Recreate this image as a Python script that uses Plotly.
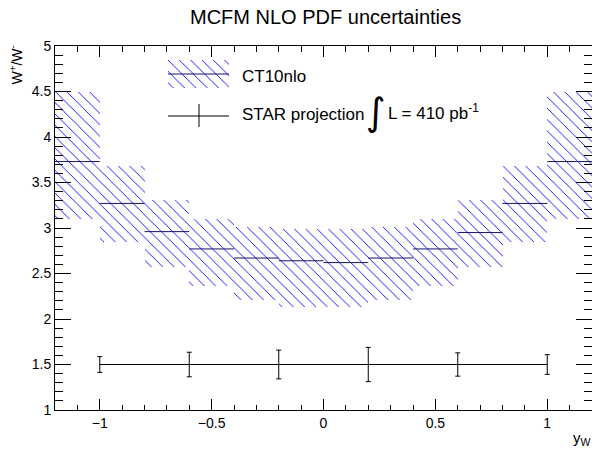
import numpy as np
import plotly.graph_objects as go

# ---------------- data ----------------
bin_edges = [-1.2, -1.0, -0.8, -0.6, -0.4, -0.2, 0.0, 0.2, 0.4, 0.6, 0.8, 1.0, 1.2]
ct10_central = [3.73, 3.27, 2.96, 2.77, 2.67, 2.64, 2.62, 2.67, 2.77, 2.95, 3.27, 3.73]
ct10_upper = [4.49, 3.68, 3.31, 3.10, 3.01, 2.99, 2.99, 3.01, 3.10, 3.31, 3.68, 4.50]
ct10_lower = [3.10, 2.85, 2.57, 2.36, 2.21, 2.13, 2.13, 2.21, 2.36, 2.57, 2.85, 3.10]

star_x = [-1.0, -0.6, -0.2, 0.2, 0.6, 1.0]
star_y = [1.5, 1.5, 1.5, 1.5, 1.5, 1.5]
star_err = [0.087, 0.135, 0.158, 0.188, 0.128, 0.108]

title_text = "MCFM NLO PDF uncertainties"
legend_labels = ["CT10nlo", "STAR projection", "L = 410 pb<sup>-1</sup>"]

# ---------------- geometry helpers (decoration only) ----------------
W, H = 592, 449
L_M, R_M, T_M, B_M = 55, 0, 46, 39
PW = W - L_M - R_M
PH = H - T_M - B_M


def px(xp):
    return (xp - L_M) / PW


def py(yp):
    return (H - B_M - yp) / PH


FONT = "Liberation Sans, Arial, Helvetica, sans-serif"
HATCH = "#0000ff"
LINE_C = "#15156a"
PATTERN = dict(shape="\\", fgcolor=HATCH, bgcolor="rgba(0,0,0,0)", fgopacity=1,
               size=8, solidity=0.11, fillmode="overlay")

edges = np.array(bin_edges)
centers = (edges[:-1] + edges[1:]) / 2
widths = np.diff(edges)
upper = np.array(ct10_upper)
lower = np.array(ct10_lower)

fig = go.Figure()

# hatched uncertainty band
fig.add_trace(go.Bar(
    x=centers, y=upper - lower, base=lower, width=widths,
    marker=dict(color="rgba(0,0,0,0)", line=dict(width=0), pattern=PATTERN),
    showlegend=False, hoverinfo="skip"))

# central value segments
seg_x, seg_y = [], []
for i, c in enumerate(ct10_central):
    seg_x += [bin_edges[i], bin_edges[i + 1], None]
    seg_y += [c, c, None]
fig.add_trace(go.Scatter(x=seg_x, y=seg_y, mode="lines",
                         line=dict(color=LINE_C, width=1),
                         showlegend=False, hoverinfo="skip"))

# STAR projection
fig.add_trace(go.Scatter(
    x=star_x, y=star_y, mode="lines",
    line=dict(color="black", width=1),
    error_y=dict(type="data", array=star_err, color="black", thickness=1, width=2.5),
    showlegend=False))

# legend hatched key (on an auxiliary axis)
fig.add_trace(go.Bar(
    x=[0], y=[1], base=[0], width=[1], xaxis="x2", yaxis="y2",
    marker=dict(color="rgba(0,0,0,0)", line=dict(width=0), pattern=PATTERN),
    showlegend=False, hoverinfo="skip"))

axis_common = dict(
    showgrid=False, zeroline=False, showline=True, linecolor="black", linewidth=1,
    mirror="ticks", ticks="inside", tickcolor="black", tickwidth=1,
    tickfont=dict(family=FONT, size=14, color="black"),
)

fig.update_layout(
    width=W, height=H,
    margin=dict(l=L_M, r=R_M, t=T_M, b=B_M, pad=0),
    paper_bgcolor="white", plot_bgcolor="white",
    showlegend=False,
    bargap=0,
    xaxis=dict(range=[-1.2, 1.2], tick0=0, dtick=0.5, ticklen=11,
               minor=dict(tick0=0, dtick=0.1, ticks="inside", ticklen=5.5,
                          tickcolor="black", showgrid=False),
               **axis_common),
    yaxis=dict(range=[1, 5], tick0=1, dtick=0.5, ticklen=16,
               minor=dict(tick0=1, dtick=0.1, ticks="inside", ticklen=8,
                          tickcolor="black", showgrid=False),
               **axis_common),
    xaxis2=dict(domain=[px(168), px(229)], range=[-0.5, 0.5], visible=False,
                anchor="y2", fixedrange=True),
    yaxis2=dict(domain=[py(88), py(60)], range=[0, 1], visible=False,
                anchor="x2", fixedrange=True),
)

annotations = [
    dict(text=title_text, xref="paper", yref="paper", x=px(325), y=py(17),
         xanchor="center", yanchor="middle", showarrow=False,
         font=dict(family=FONT, size=20, color="black")),
    dict(text="W<sup>+</sup>/W<sup>-</sup>", xref="paper", yref="paper",
         x=px(16), y=py(43), xanchor="center", yanchor="top", textangle=-90,
         showarrow=False, font=dict(family=FONT, size=14, color="black")),
    dict(text="y<sub>W</sub>", xref="paper", yref="paper", x=px(593), y=py(438),
         xanchor="right", yanchor="middle", showarrow=False,
         font=dict(family=FONT, size=15, color="black")),
    dict(text=legend_labels[0], xref="paper", yref="paper", x=px(240), y=py(76),
         xanchor="left", yanchor="middle", showarrow=False,
         font=dict(family=FONT, size=17, color="black")),
    dict(text=legend_labels[1], xref="paper", yref="paper", x=px(240), y=py(114),
         xanchor="left", yanchor="middle", showarrow=False,
         font=dict(family=FONT, size=17, color="black")),
    dict(text="∫", xref="paper", yref="paper", x=px(376), y=py(112),
         xanchor="center", yanchor="middle", showarrow=False,
         font=dict(family="DejaVu Sans, sans-serif", size=38, color="black")),
    dict(text=legend_labels[2], xref="paper", yref="paper", x=px(386), y=py(112),
         xanchor="left", yanchor="middle", showarrow=False,
         font=dict(family=FONT, size=17, color="black")),
]
fig.update_layout(annotations=annotations)

shapes = [
    dict(type="line", xref="paper", yref="paper", x0=px(168), x1=px(229),
         y0=py(74), y1=py(74), line=dict(color=LINE_C, width=1)),
    dict(type="line", xref="paper", yref="paper", x0=px(168), x1=px(229),
         y0=py(116), y1=py(116), line=dict(color="black", width=1)),
    dict(type="line", xref="paper", yref="paper", x0=px(199), x1=px(199),
         y0=py(127), y1=py(104), line=dict(color="black", width=1)),
]
fig.update_layout(shapes=shapes)

fig.write_html("out.html")
